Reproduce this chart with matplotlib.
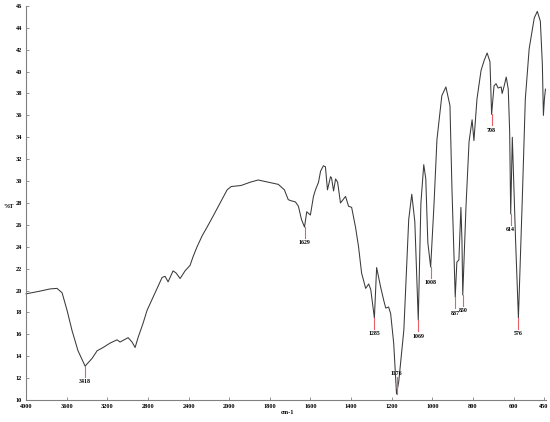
import numpy as np
import matplotlib
matplotlib.use("Agg")
import matplotlib.pyplot as plt

# IR spectrum (wavenumber in cm-1, %T)
wavenumber = [4000, 3862, 3764, 3695, 3645, 3596, 3547, 3488, 3418, 3350,
              3300, 3241, 3173, 3104, 3074, 3035, 2995, 2956, 2926, 2897,
              2848, 2808, 2749, 2700, 2660, 2631, 2601, 2552, 2522, 2483,
              2434, 2385, 2355, 2316, 2266, 2217, 2158, 2089, 2020, 1990,
              1941, 1896, 1857, 1807, 1758, 1728, 1709, 1694, 1674, 1659,
              1644, 1629, 1618, 1600, 1585, 1575, 1560, 1550, 1536, 1526,
              1516, 1501, 1496, 1486, 1476, 1466, 1452, 1427, 1412, 1397,
              1378, 1363, 1348, 1328, 1313, 1303, 1285, 1274, 1254, 1239,
              1229, 1215, 1205, 1190, 1176, 1165, 1140, 1116, 1101, 1086,
              1069, 1056, 1042, 1032, 1022, 1008, 992, 977, 953, 933,
              913, 903, 887, 879, 869, 859, 854, 850, 834, 819,
              804, 795, 780, 760, 745, 730, 716, 708, 696, 686,
              676, 661, 656, 646, 636, 626, 619, 614, 606, 590,
              576, 557, 542, 523, 498, 483, 468, 458, 453, 448,
              443]
transmittance = [19.7, 19.95, 20.15, 20.2, 19.8, 18.2, 16.35, 14.5, 13.1, 13.8,
                 14.5, 14.8, 15.2, 15.5, 15.3, 15.5, 15.7, 15.3, 14.8, 15.7,
                 17.0, 18.2, 19.4, 20.4, 21.2, 21.3, 20.8, 21.8, 21.6, 21.1,
                 21.8, 22.3, 23.1, 24.0, 25.0, 25.8, 26.8, 28.0, 29.2, 29.5,
                 29.6, 29.9, 30.1, 29.9, 29.7, 29.2, 28.3, 28.2, 28.1, 27.7,
                 26.5, 25.8, 27.2, 26.9, 28.6, 29.2, 29.9, 30.9, 31.4, 31.3,
                 29.2, 30.4, 30.3, 29.1, 30.2, 29.9, 28.0, 28.6, 27.7, 27.6,
                 25.8, 24.0, 21.6, 20.2, 20.6, 20.1, 17.5, 22.1, 20.3, 19.1,
                 18.4, 18.5, 17.9, 15.2, 10.55, 11.7, 16.4, 26.5, 28.8, 26.3,
                 17.3, 28.0, 31.5, 30.2, 24.4, 22.15, 27.7, 33.8, 37.8, 38.6,
                 36.9, 29.2, 19.4, 22.6, 22.8, 27.6, 24.6, 19.6, 27.7, 33.6,
                 35.6, 33.7, 37.5, 40.1, 41.0, 41.7, 40.9, 36.1, 38.7, 38.9,
                 38.5, 38.6, 38.0, 38.7, 39.5, 38.4, 34.5, 27.0, 34.0, 24.6,
                 17.5, 28.3, 37.5, 42.1, 44.9, 45.5, 44.6, 40.6, 36.0, 37.5,
                 38.4]

peak_wn = [3418, 1629, 1285, 1176, 1069, 1008, 887, 850, 708, 614, 576]
peak_t = [13.1, 25.8, 17.5, 10.55, 17.3, 22.15, 19.4, 19.6, 36.1, 27.0, 17.5]

x_ticks = [4000, 3600, 3200, 2800, 2400, 2000, 1800, 1600, 1400, 1200, 1000, 800, 600, 450]
y_ticks = list(range(10, 47, 2))


# half scale above 2000 cm-1, full scale below
def fwd(x):
    x = np.asarray(x, dtype=float)
    return np.where(x >= 2000, (x - 2000) * 0.5, x - 2000)


def inv(u):
    u = np.asarray(u, dtype=float)
    return np.where(u >= 0, 2000 + 2 * u, 2000 + u)


fig = plt.figure(figsize=(5.5, 4.22), dpi=100)
ax = fig.add_axes([0.0473, 0.052, 0.9455, 0.934])
ax.set_xscale("function", functions=(fwd, inv))

ax.plot(wavenumber, transmittance, color="#3a3a3a", lw=0.75, clip_on=False)

font = dict(family=["Liberation Serif", "DejaVu Serif"], fontweight="bold")

for wn, t in zip(peak_wn, peak_t):
    if t - 1.5 < 11:
        ly = t + 1.85
        ax.plot([wn, wn], [t, ly - 0.3], color="#e8606a", lw=0.8)
    else:
        ly = t - 1.45
        ax.plot([wn, wn], [t, t - 1.0], color="#e8606a", lw=0.8)
    ax.text(wn, ly, str(wn), ha="center", va="center", fontsize=4.2, **font)

ax.set_xlim(4000, 440)
ax.set_ylim(10, 46)
ax.set_xticks(x_ticks)
ax.set_xticklabels([str(v) for v in x_ticks])
ax.set_yticks(y_ticks)
ax.minorticks_off()

for side in ("top", "right"):
    ax.spines[side].set_visible(False)
for side in ("left", "bottom"):
    ax.spines[side].set_color("#808080")
    ax.spines[side].set_linewidth(0.8)

ax.tick_params(direction="in", length=2, width=0.6, color="#808080", pad=3)
for lbl in ax.get_xticklabels() + ax.get_yticklabels():
    lbl.set_fontsize(4.5)
    lbl.set_fontfamily(["Liberation Serif", "DejaVu Serif"])
    lbl.set_fontweight("bold")

fig.text(3 / 550, 1 - 206 / 422, "%T", ha="left", va="center", fontsize=4.5, **font)
fig.text(287 / 550, 1 - 412 / 422, "cm-1", ha="center", va="center", fontsize=4.5, **font)

fig.savefig("out.png", dpi=100)
